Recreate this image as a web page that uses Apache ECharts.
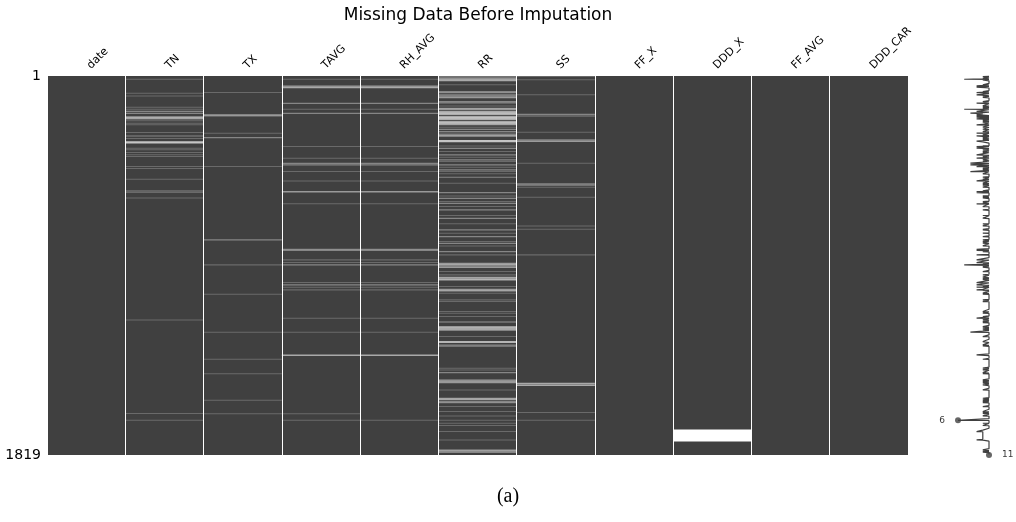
<!DOCTYPE html>
<html>
<head>
<meta charset="utf-8">
<title>Missing Data Before Imputation</title>
<script src="https://cdn.jsdelivr.net/npm/echarts@6/dist/echarts.min.js"></script>
<style>
  html, body { margin: 0; padding: 0; background: #ffffff; }
  #chart { width: 1016px; height: 522px; }
</style>
</head>
<body>
<div id="chart"></div>
<script>
// columns of the data frame, left to right
const columns = ['date', 'TN', 'TX', 'TAVG', 'RH_AVG', 'RR', 'SS', 'FF_X', 'DDD_X', 'FF_AVG', 'DDD_CAR'];
const totalRows = 1819;
const rowTickLabels = ['1', '1819'];

// missing runs per column: [first row, number of rows]
const missDate = [];
const missTN = [[16,1],[83,1],[96,1],[150,1],[160,1],[170,2],[179,2],[196,3],[201,3],[206,2],[215,1],[227,1],[235,1],
  [272,1],[288,2],[301,1],[316,7],[347,1],[355,1],[368,1],[379,1],[387,1],[435,1],[445,1],[496,1],[552,2],[560,1],
  [586,1],[1171,1],[1620,1],[1653,1]];
const missTX = [[80,1],[187,3],[192,2],[275,1],[296,2],[435,1],[787,2],[907,1],[1048,1],[1230,1],[1360,1],[1429,1],
  [1557,1],[1621,1]];
const missTAVG = [[16,1],[48,3],[54,4],[131,2],[160,1],[179,2],[339,1],[395,1],[419,2],[427,2],[459,1],[504,1],[555,3],
  [614,1],[832,2],[837,2],[883,1],[896,1],[907,2],[992,1],[1003,2],[1014,1],[1027,1],[1163,1],[1230,1],[1339,4],
  [1622,1],[1653,1]];
const missRH = [[16,1],[48,3],[54,4],[131,2],[160,1],[179,2],[339,1],[395,1],[419,2],[427,2],[459,1],[504,1],[555,3],
  [614,1],[832,2],[837,2],[883,1],[896,1],[907,2],[992,1],[1003,2],[1014,1],[1027,1],[1163,1],[1230,1],[1339,4],
  [1653,1]];
const missRR = [[4,2],[10,1],[14,3],[20,4],[43,1],[75,2],[80,2],[91,2],[97,2],[103,3],[123,2],[129,2],[144,1],
  [155,2],[159,3],[170,4],[176,3],[181,4],[186,2],[195,4],[200,3],[205,4],[210,2],[219,3],[223,4],[228,3],[233,3],
  [246,1],[256,2],[267,2],[275,1],[283,3],[288,3],[310,7],[336,1],[347,2],[363,1],[379,2],[390,1],[403,2],
  [411,1],[427,2],[438,1],[451,2],[459,1],[470,1],[486,2],[515,1],[560,2],[576,1],[587,2],[603,1],[611,2],[627,1],
  [643,2],[670,1],[683,2],[710,1],[739,2],[755,1],[771,2],[795,1],[803,2],[816,1],[843,2],[859,1],[899,3],[905,3],
  [912,2],[918,3],[939,1],[955,1],[966,3],[971,3],[977,4],[1011,1],[1024,3],[1030,3],[1043,1],[1075,1],[1083,1],
  [1131,1],[1139,1],[1155,1],[1179,1],[1184,1],[1203,3],[1208,3],[1213,4],[1219,3],[1251,1],[1275,5],[1291,2],
  [1296,2],[1403,1],[1411,1],[1424,2],[1459,3],[1465,3],[1471,3],[1507,1],[1547,3],[1552,3],[1563,2],[1568,2],
  [1587,1],[1611,1],[1632,1],[1653,1],[1667,1],[1678,1],[1707,1],[1747,1],[1795,3],[1800,3],[1806,2]];
const missSS = [[3,1],[19,1],[91,1],[184,2],[192,2],[270,1],[307,2],[313,3],[419,1],[518,2],[524,2],[534,1],[582,1],
  [720,1],[736,1],[859,1],[1475,4],[1483,4],[1616,1],[1653,1]];
const missFFX = [];
const missDDDX = [[1700,53]];
const missFFAVG = [];
const missDDDCAR = [];

const missingByColumn = [missDate, missTN, missTX, missTAVG, missRH, missRR, missSS, missFFX, missDDDX, missFFAVG, missDDDCAR];

// flatten runs for the custom series
const missingData = [];
missingByColumn.forEach((runs, ci) => {
  runs.forEach(([start, len]) => missingData.push([ci, start, len]));
});

// row completeness (number of non-missing columns) for the sparkline
const isMissing = columns.map(() => new Array(totalRows + 1).fill(false));
missingData.forEach(([ci, start, len]) => {
  for (let r = start; r < start + len && r <= totalRows; r++) isMissing[ci][r] = true;
});
const completeness = [];
for (let r = 1; r <= totalRows; r++) {
  let c = 0;
  for (let ci = 0; ci < columns.length; ci++) if (!isMissing[ci][r]) c++;
  completeness.push([c, r - 0.5]);
}
let minC = Infinity, minRow = 1, maxC = -Infinity, maxRow = 1;
completeness.forEach(([c, y]) => {
  if (c < minC) { minC = c; minRow = y; }
  if (c >= maxC) { maxC = c; maxRow = y; }
});

// white band for a run of missing rows; thin runs are softened like a downscaled raster
function renderMissing(params, api) {
  const ci = api.value(0);
  const center = api.coord([ci, 0]);
  const cellW = api.size([1, 0])[0];
  const yTop = api.coord([ci, api.value(1) - 1])[1];
  const yBot = api.coord([ci, api.value(1) - 1 + api.value(2)])[1];
  const h = yBot - yTop;
  const spread = 0.8;
  return {
    type: 'rect',
    shape: { x: center[0] - cellW / 2, y: yTop - spread / 2, width: cellW, height: h + spread },
    style: { fill: '#ffffff', opacity: Math.min(1, h / (h + spread) * 1.08) }
  };
}

const chart = echarts.init(document.getElementById('chart'), null, { renderer: 'canvas' });

chart.setOption({
  animation: false,
  backgroundColor: '#ffffff',
  textStyle: { fontFamily: 'DejaVu Sans' },
  graphic: [
    {
      type: 'text', x: 478, y: 16,
      style: { text: 'Missing Data Before Imputation', align: 'center', verticalAlign: 'middle',
        fontSize: 17, fontFamily: 'DejaVu Sans', fill: '#000000' }
    },
    {
      type: 'text', x: 508, y: 497,
      style: { text: '(a)', align: 'center', verticalAlign: 'middle',
        fontSize: 20, fontFamily: 'Liberation Serif', fill: '#000000' }
    }
  ],
  grid: [
    { left: 47, top: 76, width: 861, height: 379, show: true, backgroundColor: '#404040', borderWidth: 0 },
    { left: 945.6, top: 76, width: 55.8, height: 379, show: false }
  ],
  xAxis: [
    {
      gridIndex: 0, type: 'category', data: columns, position: 'top', boundaryGap: true,
      axisLine: { show: false }, axisTick: { show: false },
      axisLabel: { interval: 0, rotate: 45, margin: 6, fontSize: 11, color: '#000000', padding: [0, 0, 0, 4] },
      splitLine: { show: true, interval: 0, lineStyle: { color: '#ffffff', width: 1 } }
    },
    { gridIndex: 1, type: 'value', min: minC - 2, max: maxC + 2, show: false }
  ],
  yAxis: [
    {
      gridIndex: 0, type: 'value', inverse: true, min: 0, max: totalRows,
      axisLine: { show: false }, axisTick: { show: false }, splitLine: { show: false },
      axisLabel: {
        customValues: [0, totalRows],
        formatter: v => (v === 0 ? rowTickLabels[0] : rowTickLabels[1]),
        fontSize: 14, color: '#000000', margin: 6
      }
    },
    { gridIndex: 1, type: 'value', inverse: true, min: 0, max: totalRows, show: false }
  ],
  series: [
    {
      type: 'custom', xAxisIndex: 0, yAxisIndex: 0,
      encode: { x: 0, y: 1 },
      data: missingData,
      renderItem: renderMissing,
      silent: true
    },
    {
      type: 'line', xAxisIndex: 1, yAxisIndex: 1,
      data: completeness,
      symbol: 'none',
      lineStyle: { color: '#404040', width: 1.2 },
      silent: true
    },
    {
      type: 'scatter', xAxisIndex: 1, yAxisIndex: 1,
      symbolSize: 6,
      itemStyle: { color: '#404040' },
      label: { show: true, formatter: p => String(p.value[0]), fontSize: 9, color: '#000000' },
      data: [
        { value: [minC, minRow], label: { position: 'left', distance: 10 } },
        { value: [maxC, maxRow], label: { position: 'right', distance: 10 } }
      ],
      silent: true
    }
  ]
});
</script>
</body>
</html>
